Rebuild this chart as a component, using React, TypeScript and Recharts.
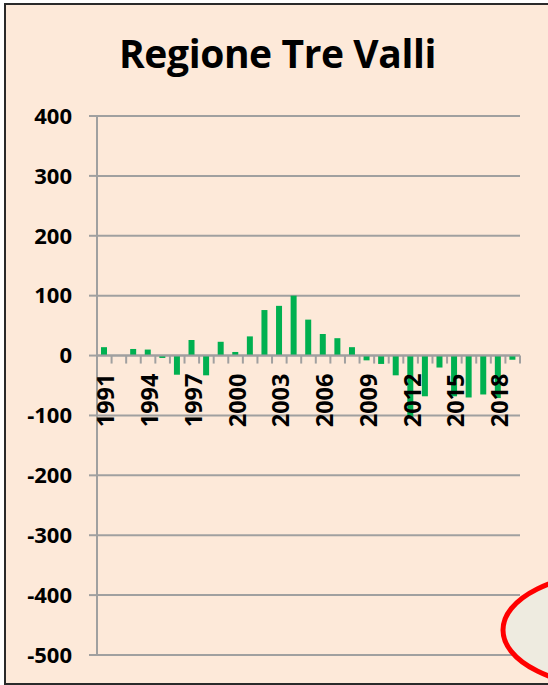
import React from 'react';
import {
  BarChart,
  Bar,
  XAxis,
  YAxis,
  CartesianGrid,
  ReferenceLine,
} from 'recharts';

// Regione Tre Valli -- yearly balance 1991-2019

const years = [
  '1991', '1992', '1993', '1994', '1995', '1996', '1997', '1998', '1999', '2000',
  '2001', '2002', '2003', '2004', '2005', '2006', '2007', '2008', '2009', '2010',
  '2011', '2012', '2013', '2014', '2015', '2016', '2017', '2018', '2019',
];
const values = [
  14, 0, 11, 10, -4, -32, 26, -33, 23, 6,
  32, 76, 83, 100, 60, 36, 29, 14, -8, -14,
  -33, -104, -68, -20, -68, -70, -65, -71, -7,
];
const yTicks = [-500, -400, -300, -200, -100, 0, 100, 200, 300, 400];
const labelEvery = 3;

const data = years.map((year, i) => ({ year, value: values[i] }));

const W = 548;
const H = 685;
const M = { top: 116, right: 28, bottom: 0, left: 0 };
const Y_AXIS_W = 97;
const X_AXIS_H = 30;
const Y_MIN = -500;
const Y_MAX = 400;
const PLOT_W = W - M.left - M.right - Y_AXIS_W;
const PLOT_H = H - M.top - M.bottom - X_AXIS_H;
const BAND = PLOT_W / years.length;
const ZERO_Y = M.top + (Y_MAX / (Y_MAX - Y_MIN)) * PLOT_H;

const FONT = '"Open Sans", Lato, sans-serif';
const GRID = '#a0a0a0';

function CategoryTick(props: any) {
  const { x, index, payload } = props;
  const showLabel = index % labelEvery === 0;
  return (
    <g>
      <line
        x1={x + BAND / 2}
        x2={x + BAND / 2}
        y1={ZERO_Y}
        y2={ZERO_Y + 8}
        stroke={GRID}
        strokeWidth={2}
      />
      {showLabel && (
        <text
          transform={`translate(${x + 1.5},${ZERO_Y + 18}) rotate(-90)`}
          textAnchor="end"
          dy="0.36em"
          fontFamily={FONT}
          fontWeight={700}
          fontSize={23.5}
          fill="#000"
        >
          {payload.value}
        </text>
      )}
    </g>
  );
}

export default function App() {
  return (
    <div
      style={{
        position: 'absolute',
        left: 0,
        top: 0,
        width: W,
        height: H,
        background: '#fff',
        overflow: 'hidden',
      }}
    >
      <div
        style={{
          position: 'absolute',
          left: 5,
          top: 4,
          width: W,
          height: 680,
          background: '#fde9d9',
        }}
      />
      <div
        style={{
          position: 'absolute',
          left: 0,
          top: 28,
          width: 555,
          textAlign: 'center',
          fontFamily: FONT,
          fontWeight: 700,
          fontSize: 39,
          lineHeight: '50px',
          letterSpacing: -0.4,
          color: '#000',
        }}
      >
        Regione Tre Valli
      </div>
      <div style={{ position: 'absolute', left: 0, top: 0 }}>
        <BarChart width={W} height={H} data={data} margin={M} barSize={6}>
          <CartesianGrid
            vertical={false}
            stroke={GRID}
            strokeWidth={2}
            strokeDasharray=""
          />
          <YAxis
            width={Y_AXIS_W}
            domain={[Y_MIN, Y_MAX]}
            ticks={yTicks}
            interval={0}
            allowDataOverflow
            axisLine={{ stroke: GRID, strokeWidth: 2 }}
            tickLine={{ stroke: GRID, strokeWidth: 2 }}
            tickSize={8}
            tickMargin={17}
            tick={{ fontFamily: FONT, fontWeight: 700, fontSize: 22, fill: '#000' }}
          />
          <ReferenceLine y={0} stroke={GRID} strokeWidth={2} />
          <Bar dataKey="value" fill="#00b050" isAnimationActive={false} />
          <XAxis
            dataKey="year"
            height={X_AXIS_H}
            interval={0}
            axisLine={false}
            tickLine={false}
            tick={<CategoryTick />}
          />
        </BarChart>
      </div>
      <svg
        width={W}
        height={H}
        style={{ position: 'absolute', left: 0, top: 0, pointerEvents: 'none' }}
      >
        <ellipse cx={620} cy={630} rx={117} ry={58} fill="#eeebe0" stroke="#ff0000" strokeWidth={5} />
        <path d={`M${W + 5},4 H5 V684 H${W + 5}`} fill="none" stroke="#2a2a2a" strokeWidth={2} />
      </svg>
    </div>
  );
}
